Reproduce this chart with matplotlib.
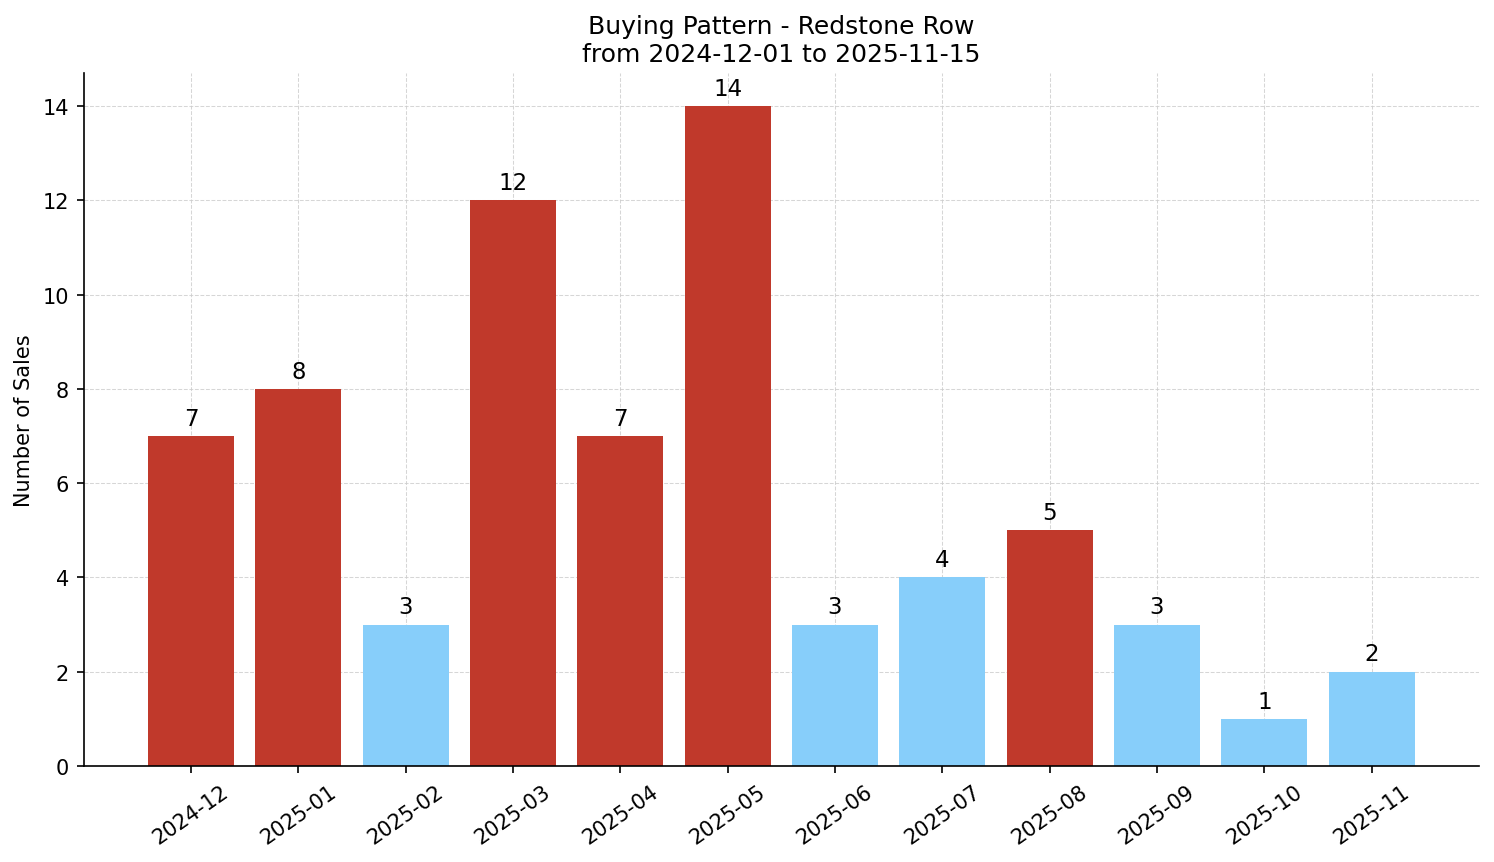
import matplotlib
matplotlib.use("Agg")
import matplotlib.pyplot as plt

# monthly sales counts
months = ["2024-12", "2025-01", "2025-02", "2025-03", "2025-04", "2025-05",
          "2025-06", "2025-07", "2025-08", "2025-09", "2025-10", "2025-11"]
sales = [7, 8, 3, 12, 7, 14, 3, 4, 5, 3, 1, 2]
high_month = [True, True, False, True, True, True, False, False, True, False, False, False]

RED = "#C0392B"
BLUE = "#87CEFA"


def graficar(months, sales, high_month):
    fig = plt.figure(figsize=(9.96, 5.7533), dpi=150)
    ax = fig.add_axes([0.0560, 0.1112, 0.9340, 0.8030])
    colors = [RED if h else BLUE for h in high_month]
    x = range(len(months))
    bars = ax.bar(x, sales, width=0.8, color=colors, zorder=2)
    for b, v in zip(bars, sales):
        ax.annotate(str(v), (b.get_x() + b.get_width() / 2, v),
                    xytext=(0, 3), textcoords="offset points",
                    ha="center", va="bottom", fontsize=11)
    ax.set_xticks(list(x))
    ax.set_xticklabels(months, rotation=35)
    ax.set_xlim(-1, 12)
    ax.set_ylim(0, 14.7)
    ax.set_ylabel("Number of Sales", fontsize=10)
    ax.set_title("Buying Pattern - Redstone Row\nfrom 2024-12-01 to 2025-11-15", fontsize=12)
    ax.grid(True, linestyle="--", linewidth=0.5, color="#cccccc", alpha=0.8, zorder=0)
    ax.set_axisbelow(True)
    ax.spines["top"].set_visible(False)
    ax.spines["right"].set_visible(False)
    fig.savefig("out.png", dpi=150)


if __name__ == "__main__":
    graficar(months, sales, high_month)
